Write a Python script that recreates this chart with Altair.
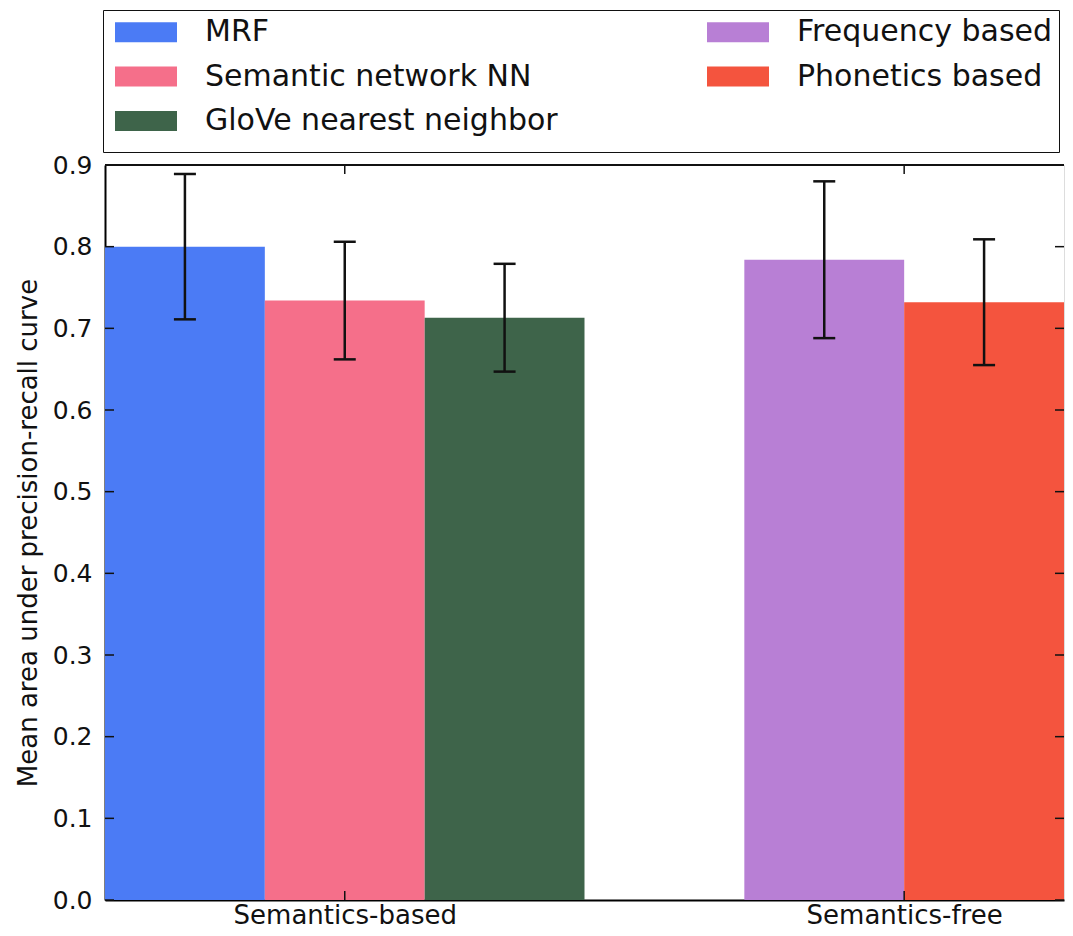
import altair as alt
import pandas as pd

# ---- data ----
methods = ["MRF", "Semantic network NN", "GloVe nearest neighbor",
           "Frequency based", "Phonetics based"]
slots = [0, 1, 2, 4, 5]            # bar slot index (slot 3 is the gap between groups)
means = [0.800, 0.734, 0.713, 0.784, 0.732]
errs = [0.089, 0.072, 0.066, 0.096, 0.077]

group_labels = ["Semantics-based", "Semantics-free"]
group_ticks = [1.5, 5.0]
y_ticks = [0.0, 0.1, 0.2, 0.3, 0.4, 0.5, 0.6, 0.7, 0.8, 0.9]

color_map = {
    "MRF": "#4b7bf5",
    "Semantic network NN": "#f56f8a",
    "GloVe nearest neighbor": "#3e644a",
    "Frequency based": "#b87fd5",
    "Phonetics based": "#f4543e",
}

W, H = 959, 735
FONT = "DejaVu Sans"

df = pd.DataFrame({"method": methods, "slot": slots, "mean": means, "err": errs})
yt = pd.DataFrame({"v": y_ticks})
gt = pd.DataFrame({"g": group_ticks})

x_scale = alt.Scale(domain=[0, 6], nice=False, zero=False)
y_scale = alt.Scale(domain=[0, 0.9], nice=False)

label_expr = "datum.value == 1.5 ? '%s' : '%s'" % (group_labels[0], group_labels[1])

base = alt.Chart(df).transform_calculate(
    slot_end="datum.slot + 1",
    center="datum.slot + 0.5",
    lo="datum.mean - datum.err",
    hi="datum.mean + datum.err",
    zero="0",
)

bars = base.mark_bar(opacity=1, strokeWidth=0).encode(
    x=alt.X("slot:Q", scale=x_scale,
            axis=alt.Axis(values=group_ticks, labelExpr=label_expr, title=None,
                          ticks=False, grid=False, domain=True, domainColor="black",
                          domainWidth=2, labelFont=FONT, labelFontSize=26,
                          labelColor="#111", labelPadding=2, labelLimit=0)),
    x2="slot_end:Q",
    y=alt.Y("mean:Q", scale=y_scale,
            axis=alt.Axis(values=y_ticks, format=".1f",
                          title="Mean area under precision-recall curve",
                          titleFont=FONT, titleFontSize=26, titleFontWeight="normal",
                          titleColor="#111", titlePadding=11,
                          ticks=False, grid=False, domain=True, domainColor="black",
                          domainWidth=2, labelFont=FONT, labelFontSize=25,
                          labelColor="#111", labelPadding=13)),
    y2="zero:Q",
    color=alt.Color("method:N",
                    scale=alt.Scale(domain=methods,
                                    range=[color_map[m] for m in methods]),
                    legend=alt.Legend(title=" ", titleOrient="bottom", titleFontSize=9,
                                      titlePadding=0,
                                      orient="none", legendX=-2, legendY=-155,
                                      direction="vertical", columns=2,
                                      columnPadding=143, rowPadding=13.5,
                                      padding=6.5, strokeColor="#111",
                                      symbolType="M-0.645,-0.64L3.355,-0.64L3.355,0.64L-0.645,0.64Z",
                                      symbolSize=961, symbolStrokeWidth=0,
                                      symbolOpacity=1,
                                      labelFont=FONT, labelFontSize=30,
                                      labelColor="#111", labelOffset=64.5,
                                      labelLimit=0)),
)

err_line = base.mark_rule(color="#111", strokeWidth=2.5).encode(
    x=alt.X("center:Q", scale=x_scale),
    y=alt.Y("lo:Q", scale=y_scale),
    y2="hi:Q",
)
cap_hi = base.mark_rule(color="#111", strokeWidth=2.5, xOffset=-11, x2Offset=11).encode(
    x=alt.X("center:Q", scale=x_scale),
    x2="center:Q",
    y=alt.Y("hi:Q", scale=y_scale),
)
cap_lo = base.mark_rule(color="#111", strokeWidth=2.5, xOffset=-11, x2Offset=11).encode(
    x=alt.X("center:Q", scale=x_scale),
    x2="center:Q",
    y=alt.Y("lo:Q", scale=y_scale),
)

tick_left = alt.Chart(yt).mark_rule(color="#111", strokeWidth=1.5).encode(
    y=alt.Y("v:Q", scale=y_scale), x=alt.value(0), x2=alt.value(9))
tick_right = alt.Chart(yt).mark_rule(color="#111", strokeWidth=1.5).encode(
    y=alt.Y("v:Q", scale=y_scale), x=alt.value(W - 9), x2=alt.value(W))
tick_bottom = alt.Chart(gt).mark_rule(color="#111", strokeWidth=1.5).encode(
    x=alt.X("g:Q", scale=x_scale), y=alt.value(H - 9), y2=alt.value(H))
tick_top = alt.Chart(gt).mark_rule(color="#111", strokeWidth=1.5).encode(
    x=alt.X("g:Q", scale=x_scale), y=alt.value(0), y2=alt.value(9))
top_border = alt.Chart(gt).mark_rule(color="#111", strokeWidth=2).encode(
    x=alt.value(0), x2=alt.value(W), y=alt.value(0))

chart = alt.layer(
    bars, err_line, cap_hi, cap_lo,
    tick_left, tick_right, tick_bottom, tick_top, top_border,
).properties(
    width=W, height=H,
    autosize=alt.AutoSizeParams(type="none"),
    padding={"left": 97, "top": 157, "right": 1, "bottom": 28},
).configure_view(stroke=None).configure(background="white")

chart.save("out.html", embed_options={"renderer": "svg", "actions": False})
